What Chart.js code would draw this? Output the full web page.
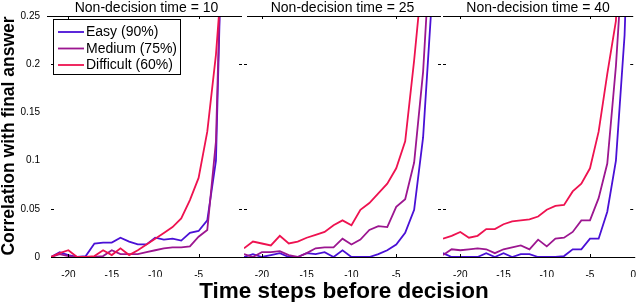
<!DOCTYPE html>
<html>
<head>
<meta charset="utf-8">
<script src="https://cdn.jsdelivr.net/npm/chart.js@4.4.1/dist/chart.umd.min.js"></script>
<style>
body { margin: 0; background: #fff; }
#wrap { position: relative; width: 640px; height: 302px; overflow: hidden; }
canvas { position: absolute; left: 0; top: 0; }
</style>
</head>
<body>
<div id="wrap">
  <canvas id="c10" width="640" height="302"></canvas>
  <canvas id="c25" width="640" height="302"></canvas>
  <canvas id="c40" width="640" height="302"></canvas>
</div>
<script>
// time steps before decision
const steps = [-22, -21, -20, -19, -18, -17, -16, -15, -14, -13, -12, -11, -10, -9, -8, -7, -6, -5, -4, -3, -2, -1, 0];

// non-decision time = 10
const easy10 = [0, 0.005, 0.002, 0, 0.001, 0.014, 0.015, 0.015, 0.02, 0.016, 0.013, 0.013, 0.02, 0.018, 0.019, 0.017, 0.025, 0.027, 0.038, 0.1, 0.45, 0.8, 1.0];
const medium10 = [0, 0.003, 0.001, 0, 0, 0, 0.001, 0.007, 0.003, 0.003, 0.003, 0.005, 0.007, 0.009, 0.01, 0.01, 0.011, 0.021, 0.028, 0.12, 0.45, 0.8, 1.0];
const difficult10 = [0, 0.004, 0.007, 0, 0, 0.001, 0.007, 0.002, 0.009, 0.002, 0.007, 0.013, 0.019, 0.025, 0.031, 0.04, 0.059, 0.082, 0.13, 0.21, 0.33, 0.6, 0.9];

// non-decision time = 25
const easy25 = [0, 0.003, 0, 0.002, 0.004, 0, 0, 0.004, 0.003, 0.005, 0, 0.007, 0, 0, 0, 0.003, 0.007, 0.013, 0.025, 0.049, 0.124, 0.27, 0.6];
const medium25 = [0.003, 0, 0.005, 0.005, 0.006, 0.002, 0, 0.004, 0.009, 0.01, 0.01, 0.019, 0.013, 0.018, 0.028, 0.032, 0.031, 0.052, 0.06, 0.098, 0.192, 0.35, 0.7];
const difficult25 = [0.009, 0.016, 0.014, 0.012, 0.022, 0.014, 0.016, 0.02, 0.023, 0.026, 0.033, 0.038, 0.033, 0.049, 0.056, 0.066, 0.076, 0.092, 0.12, 0.204, 0.3, 0.6, 0.9];

// non-decision time = 40
const easy40 = [0.004, 0, 0, 0, 0, 0.004, 0, 0.004, 0, 0.003, 0.003, 0, 0, 0, 0.001, 0.008, 0.008, 0.019, 0.019, 0.047, 0.1, 0.23, 0.5];
const medium40 = [0.002, 0.008, 0.007, 0.008, 0.009, 0.008, 0.004, 0.008, 0.01, 0.012, 0.008, 0.018, 0.011, 0.019, 0.02, 0.026, 0.038, 0.038, 0.061, 0.097, 0.198, 0.34, 0.7];
const difficult40 = [0.019, 0.022, 0.026, 0.02, 0.022, 0.029, 0.029, 0.034, 0.037, 0.038, 0.039, 0.042, 0.049, 0.053, 0.054, 0.068, 0.076, 0.092, 0.13, 0.19, 0.245, 0.45, 0.8];

const yTicks = [0, 0.05, 0.1, 0.15, 0.2, 0.25];
const xTicks = [-20, -15, -10, -5];
const xTicksLast = [-20, -15, -10, -5, 0];
const legendNames = ["Easy (90%)", "Medium (75%)", "Difficult (60%)"];

const colEasy = "#4a10d6";
const colMedium = "#9c1690";
const colDifficult = "#ee1250";
const fontFam = '"Liberation Sans", Arial, sans-serif';

// cajas, marcas, titulos y leyenda
const decor = {
    id: "decor",
    afterDraw(chart, args, opts) {
        const { ctx, chartArea: a, scales } = chart;
        const x = scales.x, y = scales.y;
        ctx.save();
        ctx.strokeStyle = "#000";
        ctx.lineWidth = 1;
        ctx.beginPath();
        const top = Math.round(a.top) + 0.5;
        const bot = Math.round(a.bottom) + 0.5;
        ctx.moveTo(a.left - opts.topExtra, top); ctx.lineTo(a.right, top);
        ctx.moveTo(a.left, bot); ctx.lineTo(a.right + 2, bot);
        [0.05, 0.2].forEach((v) => {
            const py = Math.round(y.getPixelForValue(v)) + 0.5;
            ctx.moveTo(a.left, py); ctx.lineTo(a.left + 3, py);
            ctx.moveTo(a.right - 3, py); ctx.lineTo(a.right, py);
        });
        [-20, -5].forEach((v) => {
            const px = Math.round(x.getPixelForValue(v)) + 0.5;
            ctx.moveTo(px, a.top); ctx.lineTo(px, a.top + 3);
            ctx.moveTo(px, a.bottom); ctx.lineTo(px, a.bottom - 3);
        });
        ctx.stroke();

        ctx.fillStyle = "#000";
        ctx.font = "14px " + fontFam;
        ctx.textAlign = "center";
        ctx.textBaseline = "middle";
        ctx.fillText(opts.title, (a.left + a.right) / 2, 8);

        if (opts.legend) {
            ctx.fillStyle = "#fff";
            ctx.fillRect(53.5, 19.5, 127, 55);
            ctx.strokeRect(53.5, 19.5, 127, 55);
            const cols = [colEasy, colMedium, colDifficult];
            const ys = [32, 48.5, 65];
            ctx.font = "14px " + fontFam;
            ctx.textAlign = "left";
            legendNames.forEach((name, i) => {
                ctx.strokeStyle = cols[i];
                ctx.lineWidth = 1.8;
                ctx.beginPath();
                ctx.moveTo(58, ys[i]); ctx.lineTo(84, ys[i]);
                ctx.stroke();
                ctx.fillStyle = "#000";
                ctx.fillText(name, 86, ys[i] + 0.5);
            });
        }

        if (opts.axisTitles) {
            ctx.fillStyle = "#000";
            ctx.font = "bold 17.5px " + fontFam;
            ctx.textAlign = "center";
            ctx.textBaseline = "middle";
            ctx.save();
            ctx.translate(9, 136);
            ctx.rotate(-Math.PI / 2);
            ctx.fillText("Correlation with final answer", 0, 0);
            ctx.restore();
            ctx.font = "bold 22.5px " + fontFam;
            ctx.textBaseline = "alphabetic";
            ctx.fillText("Time steps before decision", 344, 298);
        }
        ctx.restore();
    }
};

function toPoints(arr) {
    return steps.map((s, i) => ({ x: s, y: arr[i] }));
}

function makePanel(id, easy, medium, difficult, cfg) {
    return new Chart(document.getElementById(id), {
        type: "line",
        data: {
            datasets: [
                { label: legendNames[2], data: toPoints(difficult), borderColor: colDifficult },
                { label: legendNames[1], data: toPoints(medium), borderColor: colMedium },
                { label: legendNames[0], data: toPoints(easy), borderColor: colEasy }
            ]
        },
        options: {
            responsive: false,
            animation: false,
            devicePixelRatio: 1,
            layout: { padding: { left: cfg.left, right: 640 - cfg.right, top: 16, bottom: 25 } },
            elements: {
                point: { radius: 0 },
                line: { borderWidth: 1.8, tension: 0, fill: false }
            },
            plugins: {
                legend: { display: false },
                tooltip: { enabled: false },
                decor: { title: cfg.title, legend: cfg.legend, axisTitles: cfg.axisTitles, topExtra: cfg.topExtra }
            },
            scales: {
                x: {
                    type: "linear", min: -22, max: 0,
                    grid: { display: false }, border: { display: false },
                    afterBuildTicks: (s) => { s.ticks = cfg.xTicks.map((v) => ({ value: v })); },
                    afterFit: (s) => { s.height = 20; },
                    ticks: { color: "#000", padding: 4, maxRotation: 0, autoSkip: false, font: { size: 10, family: fontFam } }
                },
                y: {
                    min: 0, max: 0.25,
                    grid: { display: false }, border: { display: false },
                    afterBuildTicks: (s) => { s.ticks = yTicks.map((v) => ({ value: v })); },
                    afterFit: (s) => { s.width = cfg.yWidth; },
                    ticks: {
                        display: cfg.yLabels, color: "#000", padding: 3,
                        font: { size: 10, family: fontFam },
                        callback: (v) => String(v)
                    }
                }
            }
        },
        plugins: [decor]
    });
}

makePanel("c10", easy10, medium10, difficult10, {
    left: 0, yWidth: 51, right: 242, yLabels: true, xTicks: xTicks,
    title: "Non-decision time = 10", legend: true, axisTitles: true, topExtra: 4
});
makePanel("c25", easy25, medium25, difficult25, {
    left: 244, yWidth: 0, right: 441, yLabels: false, xTicks: xTicks,
    title: "Non-decision time = 25", legend: false, axisTitles: false, topExtra: -3
});
makePanel("c40", easy40, medium40, difficult40, {
    left: 443, yWidth: 0, right: 637, yLabels: false, xTicks: xTicksLast,
    title: "Non-decision time = 40", legend: false, axisTitles: false, topExtra: 0
});
</script>
</body>
</html>
